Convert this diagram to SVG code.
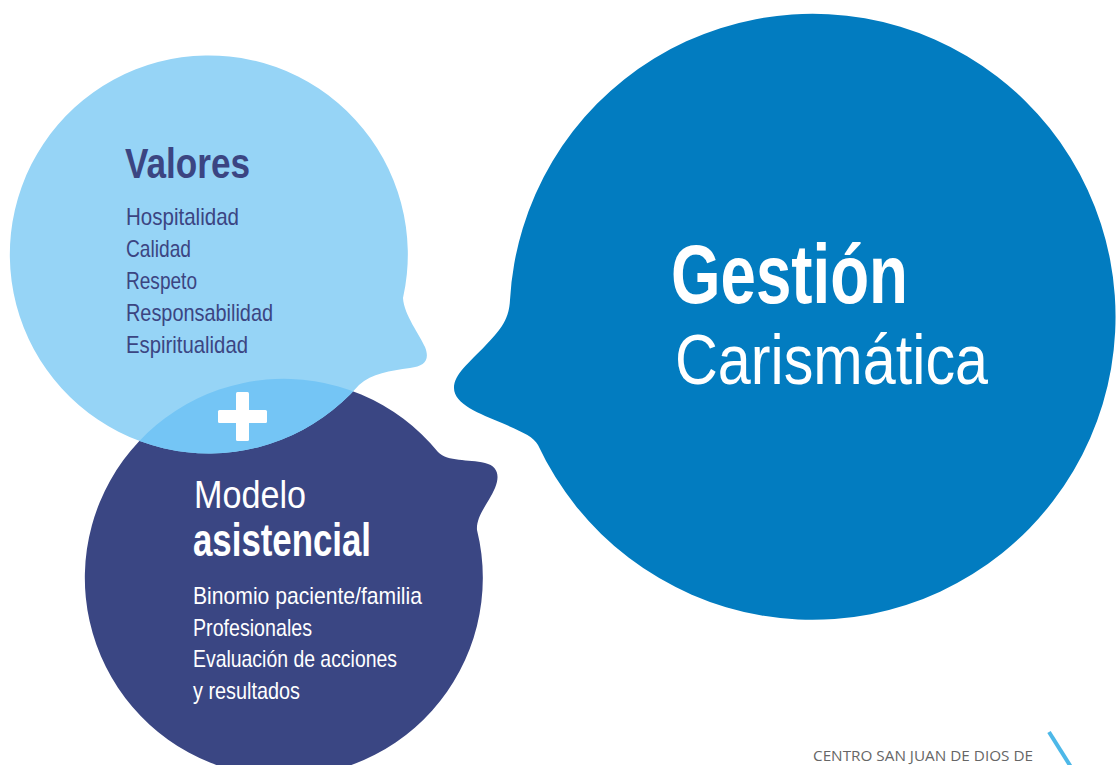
<svg xmlns="http://www.w3.org/2000/svg" width="1118" height="765" viewBox="0 0 1118 765">
  <style>
    .t { font-family: "Liberation Sans Narrow", "Liberation Sans", Arial, sans-serif; }
    .b { font-weight: bold; }
    .navy { fill: #3B4582; }
    .white { fill: #FFFFFF; }
    .item { font-size: 24px; }
  </style>
  <defs>
    <path id="lightShape" d="M 403 298 C 404 315, 420 335, 425 347 C 430 360, 425 366, 410 368 C 390 371, 372 373, 359 385 A 199 199 0 1 1 403 298 Z"/>
    <path id="darkShape" d="M 438 452 C 448 462, 468 459, 485 463 C 498 466, 500 476, 495 488 C 488 504, 476 516, 477 530 A 199 199 0 1 1 438 452 Z"/>
    <clipPath id="lightClip"><use href="#lightShape"/></clipPath>
  </defs>
  <rect width="1118" height="765" fill="#FFFFFF"/>

  <g id="gestion">
    <path d="M 510 300 C 509 322, 498 332, 485 346 C 470 362, 454 374, 454 388 C 454 404, 480 414, 502 423 C 522 432, 533 436, 538 445 A 303 303 0 1 0 510 300 Z" fill="#027CC0"/>
    <text class="t b white" x="671" y="303" font-size="84" textLength="237" lengthAdjust="spacingAndGlyphs">Gestión</text>
    <text class="t white" x="675" y="384" font-size="71" textLength="313" lengthAdjust="spacingAndGlyphs">Carismática</text>
  </g>

  <g id="modelo">
    <use href="#darkShape" fill="#3A4683"/>
    <text class="t white" x="194" y="508" font-size="38" textLength="112" lengthAdjust="spacingAndGlyphs">Modelo</text>
    <text class="t b white" x="193" y="556" font-size="46" textLength="178" lengthAdjust="spacingAndGlyphs">asistencial</text>
    <text class="t white item" x="193" y="604" textLength="229" lengthAdjust="spacingAndGlyphs">Binomio paciente/familia</text>
    <text class="t white item" x="193" y="636" textLength="119" lengthAdjust="spacingAndGlyphs">Profesionales</text>
    <text class="t white item" x="193" y="667" textLength="204" lengthAdjust="spacingAndGlyphs">Evaluación de acciones</text>
    <text class="t white item" x="193" y="699" textLength="107" lengthAdjust="spacingAndGlyphs">y resultados</text>
  </g>

  <g id="valores">
    <use href="#lightShape" fill="#96D4F6"/>
    <use href="#darkShape" fill="#74C5F5" clip-path="url(#lightClip)"/>
    <text class="t b navy" x="125" y="178" font-size="43" textLength="125" lengthAdjust="spacingAndGlyphs">Valores</text>
    <text class="t navy item" x="126" y="224.5" textLength="113" lengthAdjust="spacingAndGlyphs">Hospitalidad</text>
    <text class="t navy item" x="126" y="256.5" textLength="65" lengthAdjust="spacingAndGlyphs">Calidad</text>
    <text class="t navy item" x="126" y="288.5" textLength="71" lengthAdjust="spacingAndGlyphs">Respeto</text>
    <text class="t navy item" x="126" y="320.5" textLength="147" lengthAdjust="spacingAndGlyphs">Responsabilidad</text>
    <text class="t navy item" x="126" y="352.5" textLength="122" lengthAdjust="spacingAndGlyphs">Espiritualidad</text>
  </g>

  <g id="plus">
    <rect x="236" y="392" width="13" height="49" rx="1.5" fill="#FFFFFF"/>
    <rect x="218" y="410" width="49" height="13" rx="1.5" fill="#FFFFFF"/>
  </g>

  <g id="connectors"></g>

  <g id="footer">
    <text x="813" y="761" font-family="'Open Sans', 'Liberation Sans', sans-serif" font-size="14" fill="#666666" textLength="220" lengthAdjust="spacingAndGlyphs">CENTRO SAN JUAN DE DIOS DE</text>
    <line x1="1049" y1="732" x2="1071" y2="767" stroke="#4DB8E8" stroke-width="4"/>
  </g>
</svg>
